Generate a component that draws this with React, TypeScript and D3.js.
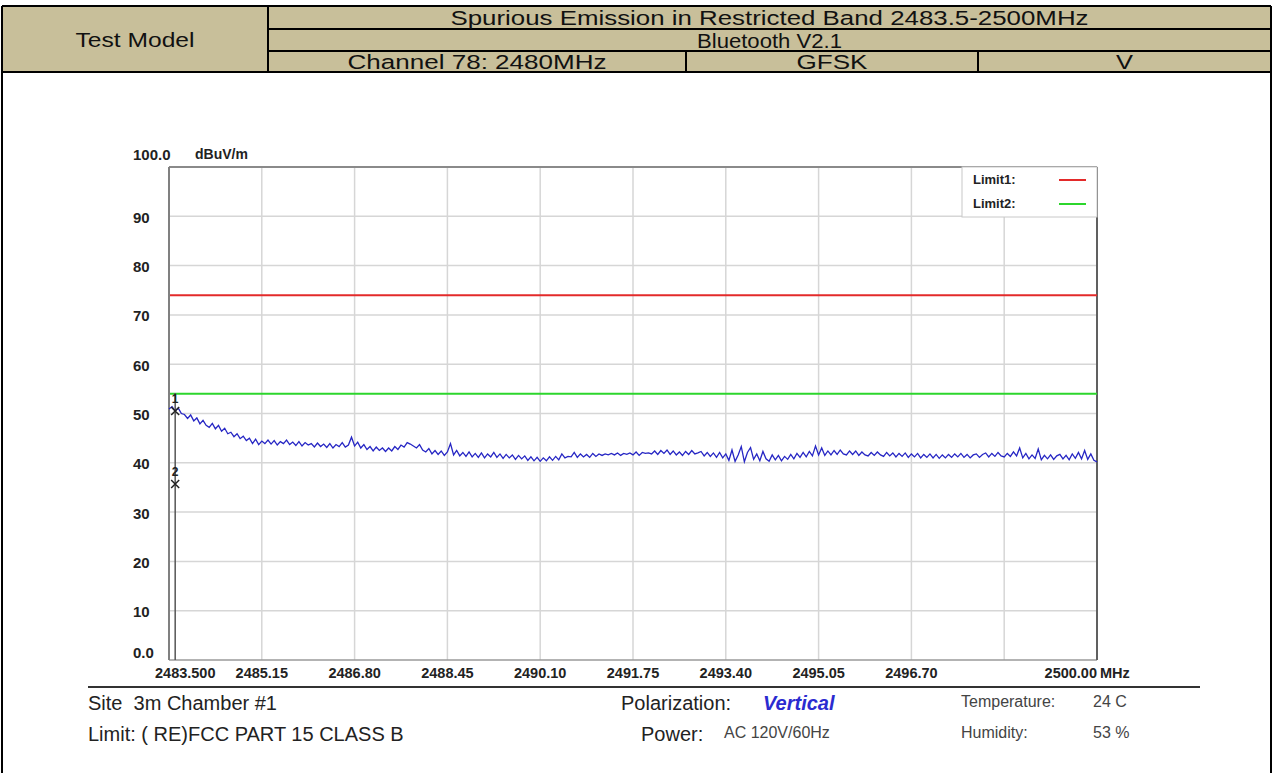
import React, { useRef, useEffect } from 'react';
import * as d3 from 'd3';

// header table texts
const testModelLabel = 'Test Model';
const headerTitle = 'Spurious Emission in Restricted Band 2483.5-2500MHz';
const headerStandard = 'Bluetooth V2.1';
const headerCells = ['Channel 78: 2480MHz', 'GFSK', 'V'];

// sweep of the analyzer (MHz)
const sweepStart = 2483.5;
const sweepStop = 2500;

// measured trace, dBuV/m, equally spaced sweep points
const traceLevels = [
    50.9, 51.4, 50.5, 51.1, 50.0, 49.8, 49.0, 49.7, 48.5, 49.1,
    47.9, 48.6, 47.6, 47.2, 48.0, 46.9, 47.6, 46.4, 47.0, 45.9,
    46.2, 45.3, 45.9, 44.9, 45.4, 44.5, 45.0, 43.9, 44.8, 43.7,
    44.4, 43.9, 44.6, 43.8, 44.5, 43.6, 44.3, 43.9, 44.6, 43.7,
    44.2, 43.5, 44.3, 43.4, 44.1, 43.6, 43.9, 43.2, 44.0, 43.3,
    43.8, 43.1, 43.9, 43.0, 43.7, 43.3, 44.1, 43.2, 43.6, 45.2,
    43.4, 44.2, 43.0, 43.7, 42.7, 43.3, 42.4, 43.2, 42.5, 43.0,
    42.3, 43.0, 42.4, 43.3, 42.7, 43.6, 43.2, 44.1, 43.8, 43.4,
    43.0, 43.7, 42.6, 42.2, 42.9, 41.8, 42.5, 41.7, 42.4, 41.5,
    42.2, 43.9, 41.6, 42.5, 41.4, 42.1, 41.3, 42.2, 41.2, 41.9,
    41.1, 42.0, 41.0, 41.8, 41.2, 42.1, 41.1, 41.8, 40.9, 41.7,
    41.0, 41.6, 40.7, 41.5, 40.8, 41.4, 40.5, 41.2, 40.4, 41.1,
    40.3, 41.0, 40.4, 41.2, 40.5, 41.3, 40.6, 41.8, 41.0, 41.3,
    41.2, 42.1, 41.1, 41.8, 41.2, 41.7, 41.1, 41.9, 41.3, 41.8,
    41.5, 41.8, 41.6, 41.9, 41.6, 42.0, 41.5, 41.9, 41.7, 42.0,
    41.6, 42.2, 41.5, 42.1, 41.9, 42.0, 41.8, 42.4, 41.7, 42.5,
    41.9, 42.6, 41.7, 42.4, 41.6, 42.2, 41.5, 42.3, 41.7, 42.5,
    41.8, 42.0, 42.3, 41.4, 42.1, 41.3, 42.0, 41.1, 42.1, 41.0,
    41.8, 40.5, 42.6, 40.3, 41.6, 43.3, 40.2, 42.1, 43.1, 40.7,
    41.8, 40.4, 42.3, 40.8, 40.3, 41.6, 40.6, 41.5, 40.4, 41.3,
    40.7, 41.7, 40.8, 41.9, 41.1, 42.1, 41.2, 42.3, 41.4, 43.4,
    41.6, 43.0, 41.5, 42.4, 41.6, 42.5, 41.7, 42.6, 41.8, 41.6,
    42.4, 41.7, 42.4, 41.5, 42.2, 41.6, 41.4, 42.1, 41.5, 42.2,
    41.6, 41.3, 42.1, 41.4, 42.0, 41.2, 41.9, 41.3, 42.0, 41.1,
    41.8, 41.2, 41.9, 41.0, 41.7, 41.1, 41.8, 41.0, 41.7, 40.9,
    41.6, 41.0, 41.7, 41.1, 41.8, 41.2, 41.9, 41.1, 41.7, 41.0,
    41.6, 41.8, 41.1, 41.7, 42.0, 41.2, 41.9, 41.3, 42.1, 41.4,
    41.2, 41.9, 41.3, 42.2, 41.4, 43.0, 41.0, 41.9, 40.8, 41.6,
    40.9, 42.8, 40.6, 41.5, 40.8, 41.6, 40.7, 41.4, 41.7, 40.8,
    41.5, 40.6, 41.8, 40.9, 42.1, 40.8, 42.5, 40.7, 41.8, 40.5,
    40.2,
];

const limitLines = [
    { name: 'Limit1:', level: 74, color: '#e32a2a' },
    { name: 'Limit2:', level: 54, color: '#2cd62c' },
];

const markers = [
    { id: '1', freq: 2483.61, level: 50.5 },
    { id: '2', freq: 2483.61, level: 35.7 },
];

const yTicks = [0, 10, 20, 30, 40, 50, 60, 70, 80, 90, 100];
const yTickLabels = ['0.0', '10', '20', '30', '40', '50', '60', '70', '80', '90', '100.0'];
const xTicks = [2483.5, 2485.15, 2486.8, 2488.45, 2490.1, 2491.75, 2493.4, 2495.05, 2496.7, 2498.35, 2500];
const xTickLabels = ['2483.500', '2485.15', '2486.80', '2488.45', '2490.10', '2491.75', '2493.40', '2495.05', '2496.70', '', '2500.00'];

// info lines under the plot
const siteText = 'Site\u00a0 3m Chamber #1';
const limitText = 'Limit: ( RE)FCC PART 15 CLASS B';
const polarization = 'Vertical';
const power = 'AC 120V/60Hz';
const temperature = '24 C';
const humidity = '53 %';

const W = 1273;
const H = 773;
const FONT = "'Liberation Sans', Arial, sans-serif";

const App: React.FC = () => {
    const svgRef = useRef<SVGSVGElement | null>(null);

    useEffect(() => {
        if (!svgRef.current) return;
        const svg = d3.select(svgRef.current);
        svg.selectAll('*').remove();
        svg.attr('font-family', FONT);

        // ---- header table
        const hx0 = 2, hx1 = 1271, hy0 = 6, hy1 = 29, hy2 = 51, hy3 = 72;
        const cx = 268, c1 = 686, c2 = 978;
        svg.append('rect')
            .attr('x', hx0).attr('y', hy0).attr('width', hx1 - hx0).attr('height', hy3 - hy0)
            .attr('fill', '#c8bf9a');

        const lines: [number, number, number, number][] = [
            [hx0, hy0, hx1, hy0],
            [cx, hy1, hx1, hy1],
            [cx, hy2, hx1, hy2],
            [hx0, hy3, hx1, hy3],
            [cx, hy0, cx, hy3],
            [c1, hy2, c1, hy3],
            [c2, hy2, c2, hy3],
            [hx0, hy0, hx0, H],
            [hx1, hy0, hx1, H],
        ];
        svg.append('g').selectAll('line').data(lines).join('line')
            .attr('x1', d => d[0]).attr('y1', d => d[1]).attr('x2', d => d[2]).attr('y2', d => d[3])
            .attr('stroke', '#000').attr('stroke-width', 2);

        // baseline placed so the cap height sits centred in the row
        const headText = (x: number, yc: number, t: string, len: number) =>
            svg.append('text')
                .attr('x', x).attr('y', yc + 7.5)
                .attr('text-anchor', 'middle')
                .attr('font-size', 20.5)
                .attr('fill', '#111')
                .attr('textLength', len)
                .attr('lengthAdjust', 'spacingAndGlyphs')
                .text(t);

        headText((hx0 + cx) / 2, (hy0 + hy3) / 2, testModelLabel, 119);
        headText((cx + hx1) / 2, (hy0 + hy1) / 2, headerTitle, 638);
        headText((cx + hx1) / 2, (hy1 + hy2) / 2, headerStandard, 145);
        headText((cx + c1) / 2, (hy2 + hy3) / 2, headerCells[0], 259);
        headText((c1 + c2) / 2, (hy2 + hy3) / 2, headerCells[1], 71);
        headText((c2 + hx1) / 2, (hy2 + hy3) / 2, headerCells[2], 17);

        // ---- plot
        const px0 = 169, px1 = 1097, py0 = 167, py1 = 660;
        const x = d3.scaleLinear().domain([sweepStart, sweepStop]).range([px0, px1]);
        const y = d3.scaleLinear().domain([0, 100]).range([py1, py0]);

        const grid = svg.append('g').attr('stroke', '#d6d6d6').attr('stroke-width', 1.5);
        grid.selectAll('.gx').data(xTicks.slice(1, -1)).join('line')
            .attr('x1', d => x(d)).attr('x2', d => x(d)).attr('y1', py0).attr('y2', py1);
        grid.selectAll('.gy').data(yTicks.slice(1, -1)).join('line')
            .attr('y1', d => y(d)).attr('y2', d => y(d)).attr('x1', px0).attr('x2', px1);

        // frame
        svg.append('line').attr('x1', px0).attr('x2', px1).attr('y1', py0).attr('y2', py0)
            .attr('stroke', '#8a8a8a').attr('stroke-width', 2);
        svg.append('line').attr('x1', px0).attr('x2', px1).attr('y1', py1).attr('y2', py1)
            .attr('stroke', '#9a9a9a').attr('stroke-width', 1.5);
        svg.append('line').attr('x1', px0).attr('x2', px0).attr('y1', py0).attr('y2', py1)
            .attr('stroke', '#808080').attr('stroke-width', 2);
        svg.append('line').attr('x1', px1).attr('x2', px1).attr('y1', py0).attr('y2', py1)
            .attr('stroke', '#606060').attr('stroke-width', 2);

        // limit lines
        svg.append('g').selectAll('line').data(limitLines).join('line')
            .attr('x1', px0 + 1).attr('x2', px1)
            .attr('y1', d => y(d.level)).attr('y2', d => y(d.level))
            .attr('stroke', d => d.color).attr('stroke-width', 2);

        // trace
        const step = (sweepStop - sweepStart) / (traceLevels.length - 1);
        const line = d3.line<number>()
            .x((_, i) => x(sweepStart + i * step))
            .y(d => y(d));
        svg.append('path')
            .datum(traceLevels)
            .attr('d', line)
            .attr('fill', 'none')
            .attr('stroke', '#2626c4')
            .attr('stroke-width', 1.3);

        // marker line
        const mx = x(markers[0].freq);
        svg.append('line')
            .attr('x1', mx).attr('x2', mx)
            .attr('y1', y(markers[0].level) - 18).attr('y2', py1)
            .attr('stroke', '#555').attr('stroke-width', 1.5);

        const mk = svg.append('g').selectAll('g').data(markers).join('g')
            .attr('transform', d => `translate(${x(d.freq)},${y(d.level)})`);
        mk.append('path')
            .attr('d', 'M-4,-4L4,4M-4,4L4,-4')
            .attr('stroke', '#222').attr('stroke-width', 1.5);
        mk.append('text')
            .attr('y', -8)
            .attr('text-anchor', 'middle')
            .attr('font-size', 12).attr('font-weight', 'bold').attr('fill', '#222')
            .text(d => d.id);

        // legend
        const lg = svg.append('g');
        lg.append('rect')
            .attr('x', 962).attr('y', py0).attr('width', px1 - 962).attr('height', 50)
            .attr('fill', '#fff').attr('stroke', '#c8c8c8').attr('stroke-width', 1);
        const li = lg.selectAll('g').data(limitLines).join('g')
            .attr('transform', (_, i) => `translate(0,${179 + i * 24})`);
        li.append('text')
            .attr('x', 973).attr('dominant-baseline', 'central')
            .attr('font-size', 13).attr('font-weight', 'bold').attr('fill', '#222')
            .text(d => d.name);
        li.append('line')
            .attr('x1', 1059).attr('x2', 1086).attr('y1', 1).attr('y2', 1)
            .attr('stroke', d => d.color).attr('stroke-width', 2);

        // y axis labels
        const yl = svg.append('g')
            .attr('font-size', 15).attr('font-weight', 'bold').attr('fill', '#222');
        yl.selectAll('text').data(yTicks).join('text')
            .attr('x', 133)
            .attr('y', d => d === 100 ? 154 : d === 0 ? y(d) - 8 : y(d) + 1)
            .attr('dominant-baseline', 'central')
            .text((_, i) => yTickLabels[i]);
        yl.append('text').attr('x', 195).attr('y', 154)
            .attr('dominant-baseline', 'central').attr('font-size', 14).text('dBuV/m');

        // x axis labels
        const xl = svg.append('g')
            .attr('font-size', 14.5).attr('font-weight', 'bold').attr('fill', '#222');
        xl.selectAll('text').data(xTicks).join('text')
            .attr('x', (d, i) => i === 0 ? x(d) - 14 : x(d))
            .attr('y', 673)
            .attr('dominant-baseline', 'central')
            .attr('text-anchor', (_, i) => i === 0 ? 'start' : i === xTicks.length - 1 ? 'end' : 'middle')
            .text((_, i) => xTickLabels[i]);
        xl.append('text').attr('x', 1100).attr('y', 673)
            .attr('dominant-baseline', 'central').text('MHz');

        // info block
        svg.append('line').attr('x1', 88).attr('x2', 1200).attr('y1', 687).attr('y2', 687)
            .attr('stroke', '#333').attr('stroke-width', 2);
        const info = svg.append('g').attr('fill', '#222');
        const t = (xx: number, yy: number, s: string, size: number, extra?: (e: any) => void) => {
            const e = info.append('text').attr('x', xx).attr('y', yy)
                .attr('dominant-baseline', 'central').attr('font-size', size).text(s);
            if (extra) extra(e);
            return e;
        };
        t(88, 703, siteText, 20);
        t(88, 734, limitText, 20);
        t(621, 703, 'Polarization:', 20);
        t(763, 703, polarization, 20, e => e.attr('font-weight', 'bold').attr('font-style', 'italic').attr('fill', '#2b2bd0'));
        t(641, 734, 'Power:', 20);
        t(724, 732, power, 16, e => e.attr('fill', '#444'));
        t(961, 701, 'Temperature:', 16, e => e.attr('fill', '#444'));
        t(1093, 701, temperature, 16, e => e.attr('fill', '#444'));
        t(961, 732, 'Humidity:', 16, e => e.attr('fill', '#444'));
        t(1093, 732, humidity, 16, e => e.attr('fill', '#444'));
    }, []);

    return (
        <svg ref={svgRef} width={W} height={H}
            style={{ position: 'absolute', left: 0, top: 0, background: '#fff' }} />
    );
};

export default App;
